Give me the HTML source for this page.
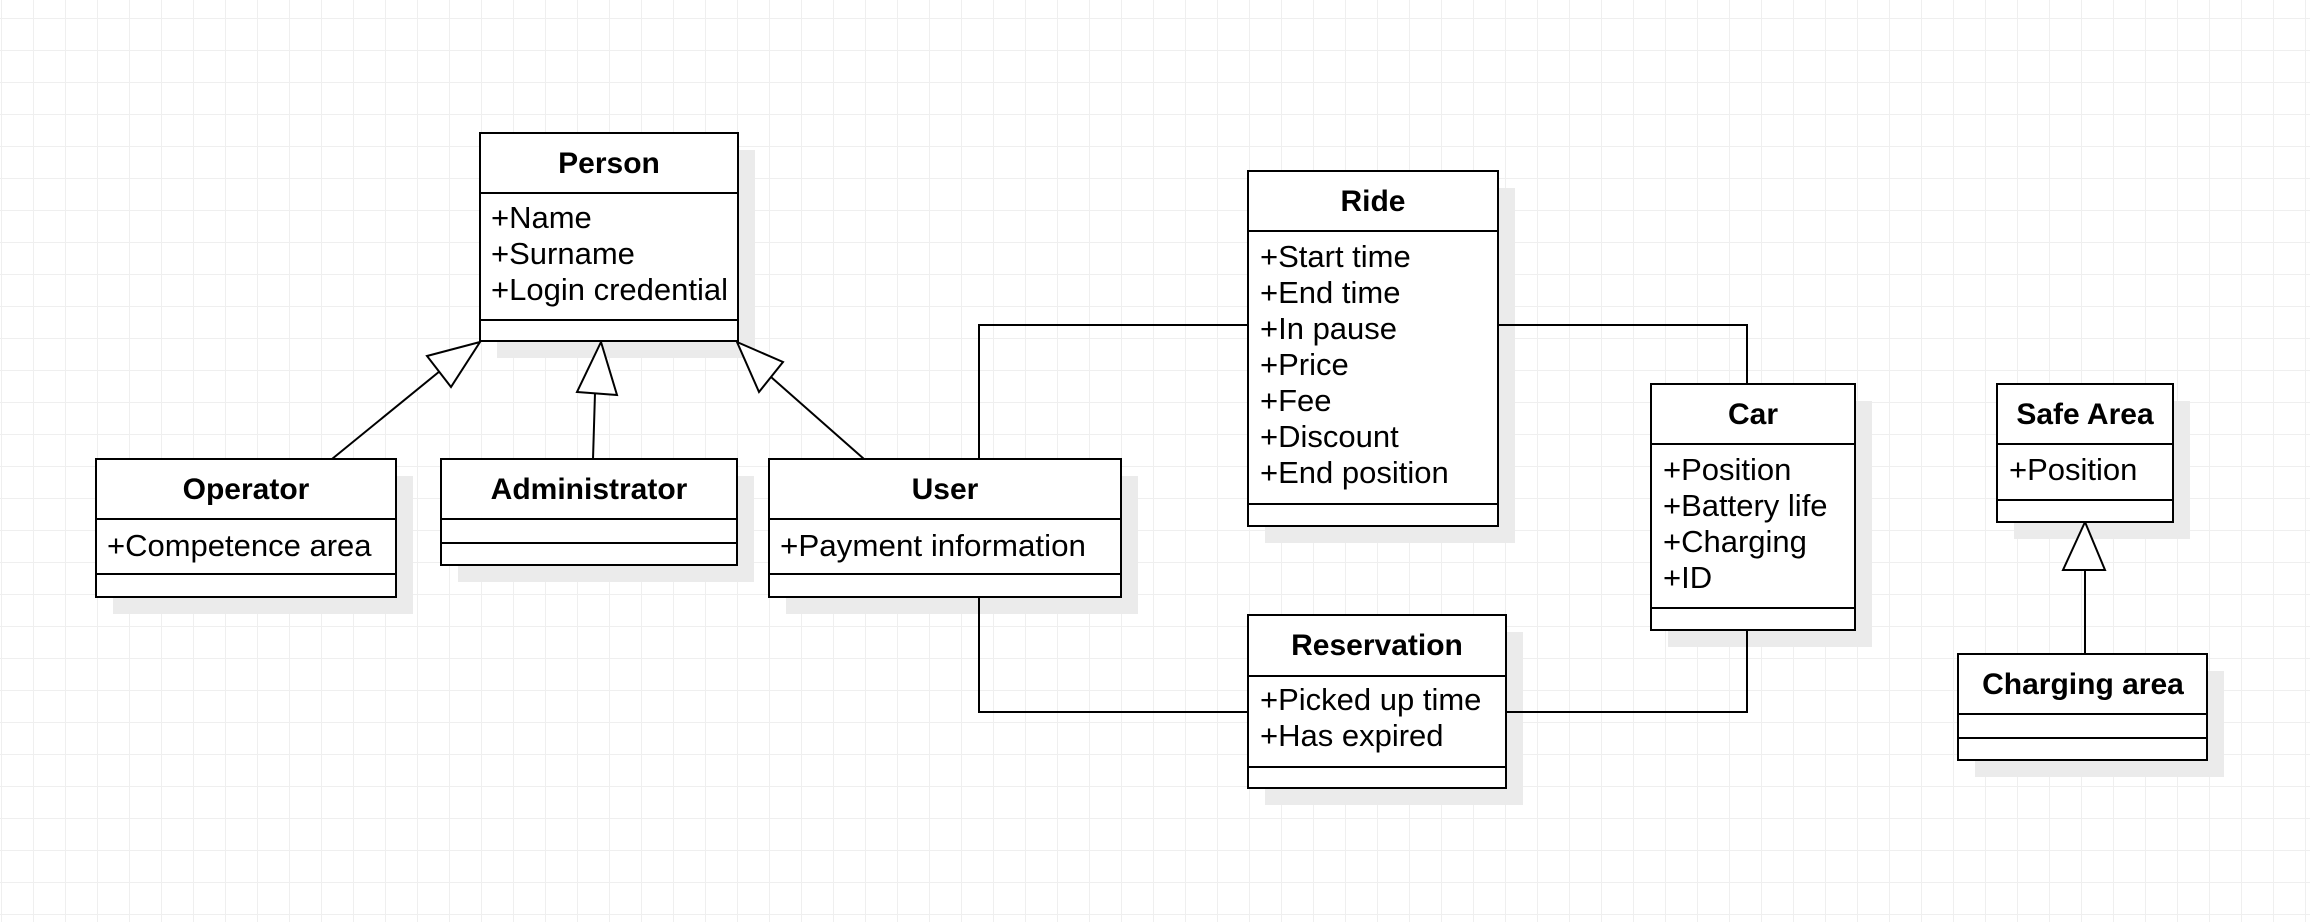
<!DOCTYPE html>
<html><head><meta charset="utf-8"><style>html,body{margin:0;padding:0;background:#fff}svg{display:block}</style></head>
<body>
<svg width="2310" height="922" viewBox="0 0 2310 922" xmlns="http://www.w3.org/2000/svg" font-family="Liberation Sans, Arial, sans-serif">
<defs>
<pattern id="g" x="1" y="18" width="32" height="32" patternUnits="userSpaceOnUse">
<path d="M0 0H32M0 0V32" stroke="#efefef" stroke-width="2" fill="none"/>
</pattern>
</defs>
<rect width="2310" height="922" fill="url(#g)"/>
<g fill="#ebebeb">
<rect x="497" y="150" width="258" height="208"/>
<rect x="113" y="476" width="300" height="138"/>
<rect x="458" y="476" width="296" height="106"/>
<rect x="786" y="476" width="352" height="138"/>
<rect x="1265" y="188" width="250" height="355"/>
<rect x="1668" y="401" width="204" height="246"/>
<rect x="1265" y="632" width="258" height="173"/>
<rect x="2014" y="401" width="176" height="138"/>
<rect x="1975" y="671" width="249" height="106"/>
</g>
<g stroke="#000" stroke-width="2" fill="none">
<path d="M979 459V325H1248M1498 325H1747V384M979 597V712H1248M1506 712H1747V630"/>
<path d="M332 459L440 371M593 459L595 393M864 459L771 377M2085 654V570"/>
</g>
<g stroke="#000" stroke-width="2" fill="#fff">
<polygon points="480,342 427,356 451,387"/>
<polygon points="601,342 577,392 617,395"/>
<polygon points="737,342 783,362 759,392"/>
<polygon points="2085,522 2063,570 2105,570"/>
</g>
<g stroke="#000" stroke-width="2" fill="#fff">
<rect x="480" y="133" width="258" height="208"/><path d="M480 193H738M480 320H738"/>
<rect x="96" y="459" width="300" height="138"/><path d="M96 519H396M96 574H396"/>
<rect x="441" y="459" width="296" height="106"/><path d="M441 519H737M441 543H737"/>
<rect x="769" y="459" width="352" height="138"/><path d="M769 519H1121M769 574H1121"/>
<rect x="1248" y="171" width="250" height="355"/><path d="M1248 231H1498M1248 504H1498"/>
<rect x="1651" y="384" width="204" height="246"/><path d="M1651 444H1855M1651 608H1855"/>
<rect x="1248" y="615" width="258" height="173"/><path d="M1248 676H1506M1248 767H1506"/>
<rect x="1997" y="384" width="176" height="138"/><path d="M1997 444H2173M1997 500H2173"/>
<rect x="1958" y="654" width="249" height="106"/><path d="M1958 714H2207M1958 738H2207"/>
</g>
<g font-weight="bold" font-size="30" text-anchor="middle" fill="#000">
<text x="609" y="173">Person</text>
<text x="246" y="499">Operator</text>
<text x="589" y="499">Administrator</text>
<text x="945" y="499">User</text>
<text x="1373" y="211">Ride</text>
<text x="1753" y="424">Car</text>
<text x="1377" y="655">Reservation</text>
<text x="2085" y="424">Safe Area</text>
<text x="2083" y="694">Charging area</text>
</g>
<g font-size="31" fill="#000">
<text x="491" y="228">+Name</text>
<text x="491" y="264">+Surname</text>
<text x="491" y="300" textLength="237" lengthAdjust="spacingAndGlyphs">+Login credential</text>
<text x="107" y="556">+Competence area</text>
<text x="780" y="556" textLength="306" lengthAdjust="spacingAndGlyphs">+Payment information</text>
<text x="1260" y="267">+Start time</text>
<text x="1260" y="303">+End time</text>
<text x="1260" y="339">+In pause</text>
<text x="1260" y="375">+Price</text>
<text x="1260" y="411">+Fee</text>
<text x="1260" y="447">+Discount</text>
<text x="1260" y="483">+End position</text>
<text x="1663" y="480">+Position</text>
<text x="1663" y="516">+Battery life</text>
<text x="1663" y="552">+Charging</text>
<text x="1663" y="588">+ID</text>
<text x="1260" y="710">+Picked up time</text>
<text x="1260" y="746">+Has expired</text>
<text x="2009" y="480">+Position</text>
</g>
</svg>
</body></html>
